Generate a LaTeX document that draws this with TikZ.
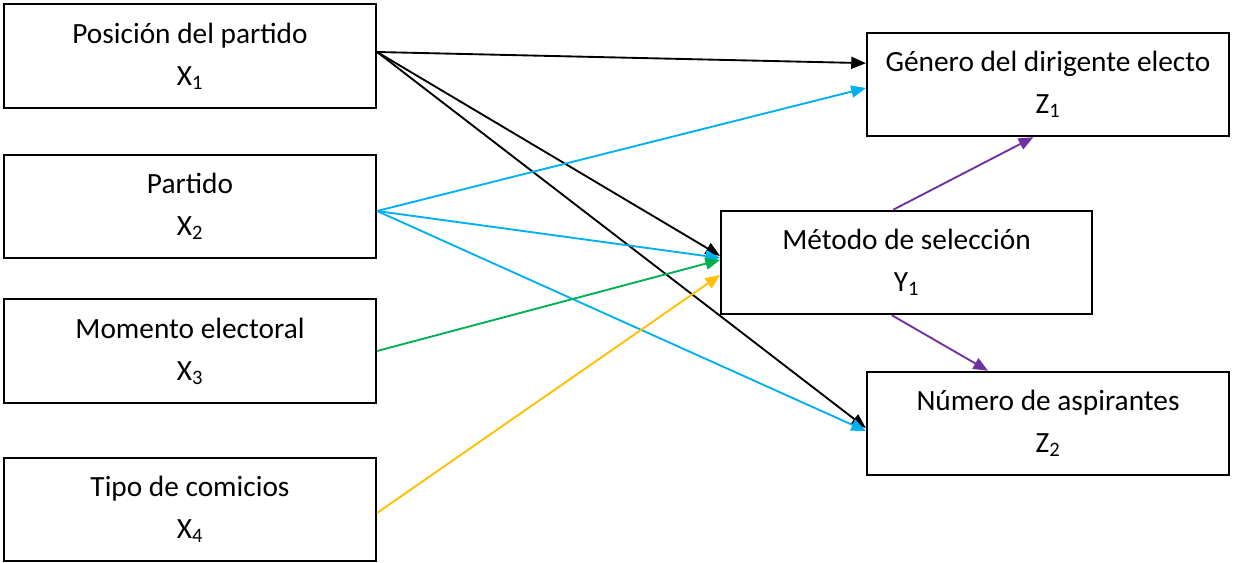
\documentclass[tikz,border=0pt]{standalone}
\usepackage{fontspec}
\setmainfont{Carlito}
\usetikzlibrary{arrows.meta}
\definecolor{cblue}{HTML}{00B0F0}
\definecolor{cgreen}{HTML}{00B050}
\definecolor{cyellow}{HTML}{FFC000}
\definecolor{cpurple}{HTML}{7030A0}
\tikzset{
  varbox/.style={draw=black, line width=1.6pt, align=center, inner sep=0pt,
    font=\fontsize{22}{31.5}\selectfont, minimum height=77.5pt},
  lbox/.style={varbox, minimum width=279pt},
  rbox/.style={varbox, minimum width=271.5pt},
  conn/.style={line width=1.4pt, -{Triangle[length=11pt,width=9pt]}},
}
\begin{document}
\begin{tikzpicture}[x=0.75pt,y=-0.75pt]
\useasboundingbox (0,0) rectangle (1239,563);
\node[lbox] (x1) at (190,56) {Posición del partido\\X\textsubscript{1}};
\node[lbox] (x2) at (190,206.5) {Partido\\X\textsubscript{2}};
\node[lbox] (x3) at (190,351) {Momento electoral\\X\textsubscript{3}};
\node[lbox] (x4) at (190,509.5) {Tipo de comicios\\X\textsubscript{4}};
\node[rbox] (z1) at (1048,84.5) {Género del dirigente electo\\Z\textsubscript{1}};
\node[lbox, minimum width=278pt] (y1) at (906.5,262.5) {Método de selección\\Y\textsubscript{1}};
\node[rbox] (z2) at (1048,423.5) {Número de aspirantes\\Z\textsubscript{2}};

\draw[conn, black] ([yshift=3pt]x1.east) -- ([yshift=16pt]z1.west);
\draw[conn, black] ([yshift=3pt]x1.east) -- ([yshift=5pt]y1.west);
\draw[conn, black] ([yshift=3pt]x1.east) -- ([yshift=-3.4pt]z2.west);
\draw[conn, cblue] ([yshift=-3.4pt]x2.east) -- ([yshift=-2.6pt]z1.west);
\draw[conn, cblue] ([yshift=-3.4pt]x2.east) -- ([yshift=3.4pt]y1.west);
\draw[conn, cblue] ([yshift=-3.4pt]x2.east) -- ([yshift=-5.6pt]z2.west);
\draw[conn, cgreen] (x3.east) -- ([yshift=2pt]y1.west);
\draw[conn, cyellow] ([yshift=-2.6pt]x4.east) -- ([yshift=-9.4pt]y1.west);
\draw[conn, cpurple] ([xshift=-10pt]y1.north) -- ([xshift=-11pt]z1.south);
\draw[conn, cpurple] ([xshift=-11pt]y1.south) -- ([xshift=-45pt]z2.north);
\end{tikzpicture}
\end{document}
